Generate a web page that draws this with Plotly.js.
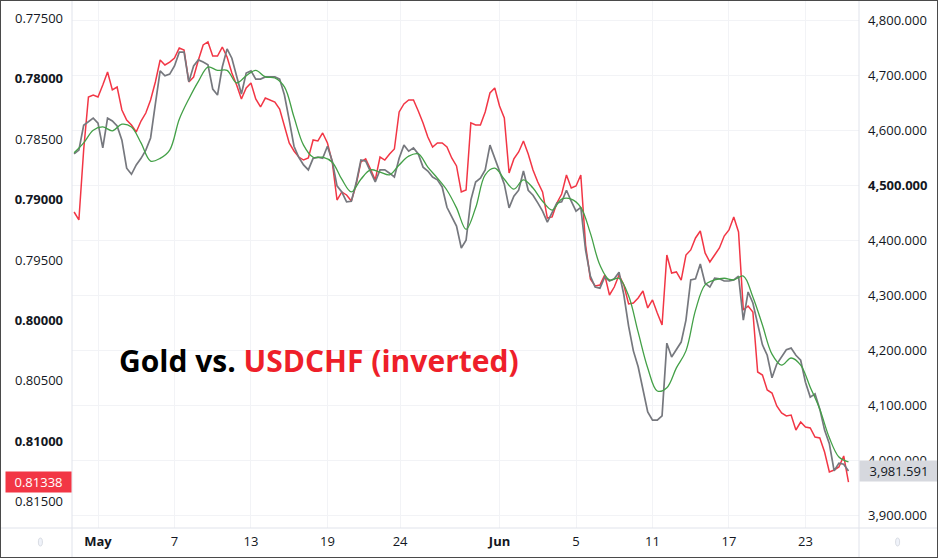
<!DOCTYPE html>
<html>
<head>
<meta charset="utf-8">
<script src="https://cdn.plot.ly/plotly-3.0.1.min.js"></script>
<style>
  html, body { margin: 0; padding: 0; background: #fff; }
  #chart { width: 936px; height: 556px; border: 1px solid #4a4a4a; }
</style>
</head>
<body>
<div id="chart"></div>
<script>
// samples every 6 hours, x in trading days counted from May 1
var firstDay = -1.25;
var sampleStep = 0.25;
var maStep = 0.5;

// USDCHF close (left axis, inverted)
var usdchf = [
  0.79103, 0.79169, 0.78590, 0.78151, 0.78135, 0.78151, 0.78052, 0.77944, 0.78093, 0.78069,
  0.78259, 0.78342, 0.78383, 0.78441, 0.78350, 0.78284, 0.78176, 0.78027, 0.77845, 0.77886,
  0.77862, 0.77829, 0.77746, 0.77762, 0.78027, 0.77986, 0.77845, 0.77721, 0.77696, 0.77812,
  0.77812, 0.77738, 0.77820, 0.77953, 0.78052, 0.78168, 0.78077, 0.78035, 0.78168, 0.78234,
  0.78160, 0.78176, 0.78193, 0.78251, 0.78383, 0.78532, 0.78598, 0.78648, 0.78673, 0.78656,
  0.78507, 0.78515, 0.78449, 0.78532, 0.78689, 0.79004, 0.78937, 0.78962, 0.79012, 0.78879,
  0.78689, 0.78664, 0.78747, 0.78838, 0.78648, 0.78673, 0.78623, 0.78582, 0.78275, 0.78209,
  0.78176, 0.78176, 0.78267, 0.78366, 0.78482, 0.78565, 0.78532, 0.78532, 0.78565, 0.78656,
  0.78722, 0.78937, 0.78921, 0.78366, 0.78383, 0.78383, 0.78275, 0.78118, 0.78077, 0.78226,
  0.78325, 0.78780, 0.78664, 0.78606, 0.78515, 0.78623, 0.78755, 0.78855, 0.78937, 0.79153,
  0.79144, 0.79028, 0.78954, 0.78797, 0.78904, 0.78888, 0.78797, 0.79376, 0.79657, 0.79715,
  0.79707, 0.79624, 0.79790, 0.79724, 0.79624, 0.79707, 0.79864, 0.79856, 0.79815, 0.79757,
  0.79897, 0.79831, 0.79939, 0.80038, 0.79459, 0.79608, 0.79599, 0.79666, 0.79459, 0.79417,
  0.79318, 0.79260, 0.79442, 0.79517, 0.79459, 0.79401, 0.79302, 0.79252, 0.79144, 0.79268,
  0.79914, 0.79881, 0.79930, 0.80427, 0.80452, 0.80576, 0.80601, 0.80708, 0.80766, 0.80791,
  0.80783, 0.80907, 0.80841, 0.80882, 0.80890, 0.80965, 0.80973, 0.81089, 0.81254, 0.81238,
  0.81213, 0.81122, 0.81338
];

// Gold close (right axis)
var gold = [
  4558, 4565, 4610, 4616, 4623, 4614, 4569, 4623, 4618, 4609,
  4583, 4532, 4521, 4538, 4550, 4565, 4587, 4649, 4709, 4700,
  4703, 4718, 4743, 4743, 4689, 4718, 4729, 4725, 4720, 4676,
  4665, 4716, 4749, 4732, 4701, 4667, 4705, 4709, 4694, 4694,
  4698, 4698, 4698, 4694, 4665, 4620, 4572, 4552, 4538, 4529,
  4550, 4552, 4550, 4572, 4545, 4500, 4489, 4471, 4472, 4505,
  4547, 4545, 4525, 4507, 4529, 4529, 4523, 4516, 4550, 4574,
  4563, 4569, 4558, 4534, 4527, 4516, 4511, 4498, 4461, 4443,
  4427, 4387, 4401, 4474, 4507, 4514, 4529, 4574, 4550, 4527,
  4503, 4460, 4481, 4492, 4527, 4492, 4483, 4469, 4454, 4434,
  4451, 4469, 4471, 4492, 4472, 4454, 4461, 4383, 4336, 4316,
  4314, 4334, 4327, 4331, 4343, 4302, 4245, 4200, 4171, 4129,
  4089, 4074, 4074, 4082, 4214, 4189, 4203, 4216, 4256, 4329,
  4331, 4358, 4323, 4316, 4332, 4331, 4327, 4327, 4329, 4336,
  4256, 4307, 4287, 4249, 4211, 4192, 4151, 4176, 4189, 4202,
  4205, 4192, 4183, 4143, 4116, 4122, 4094, 4056, 4031, 3982,
  3996, 3994, 3981.591
];

// Gold moving average (every 12 hours)
var goldMa = [
  4560, 4578, 4601, 4607, 4600, 4612, 4607, 4578, 4545, 4550,
  4565, 4621, 4658, 4690, 4716, 4710, 4710, 4687, 4700, 4710,
  4698, 4696, 4680, 4625, 4574, 4552, 4552, 4543, 4512, 4489,
  4512, 4529, 4525, 4520, 4538, 4554, 4558, 4534, 4514, 4492,
  4460, 4421, 4460, 4520, 4532, 4512, 4494, 4511, 4496, 4472,
  4456, 4476, 4476, 4461, 4414, 4356, 4329, 4332, 4300, 4234,
  4169, 4127, 4133, 4169, 4200, 4274, 4320, 4329, 4332, 4329,
  4336, 4298, 4247, 4194, 4174, 4187, 4174, 4134, 4094, 4042,
  4007, 3998
];

var tickDays = [0, 4, 8, 12, 15.8, 21, 25, 29, 33, 37];
var tickLabels = ['<b>May</b>', '7', '13', '19', '24', '<b>Jun</b>', '5', '11', '17', '23'];
var chfTicks = [0.775, 0.780, 0.785, 0.790, 0.795, 0.800, 0.805, 0.810, 0.815];
var goldTicks = [3900, 4000, 4100, 4200, 4300, 4400, 4500, 4600, 4700, 4800];

var lastChf = usdchf[usdchf.length - 1];
var lastGold = gold[gold.length - 1];

var chfText = chfTicks.map(function (v) {
    var s = v.toFixed(5);
    return (Math.round(v * 1000) % 10 === 0) ? '<b>' + s + '</b>' : s;
});
var goldText = goldTicks.map(function (v) {
    var s = v.toLocaleString('en-US', {minimumFractionDigits: 3});
    return v === 4500 ? '<b>' + s + '</b>' : s;
});

var data = [
    {
        type: 'scatter',
        mode: 'lines',
        name: 'Gold',
        x0: firstDay,
        dx: sampleStep,
        y: gold,
        yaxis: 'y2',
        line: {color: '#76787e', width: 1.7},
        hoverinfo: 'skip'
    },
    {
        type: 'scatter',
        mode: 'lines',
        name: 'Gold MA',
        x0: firstDay,
        dx: maStep,
        y: goldMa,
        yaxis: 'y2',
        line: {color: '#43a047', width: 1.3, shape: 'spline'},
        hoverinfo: 'skip'
    },
    {
        type: 'scatter',
        mode: 'lines',
        name: 'USDCHF',
        x0: firstDay,
        dx: sampleStep,
        y: usdchf,
        line: {color: '#f23645', width: 1.5},
        hoverinfo: 'skip'
    }
];

var lineColor = '#e0e3eb';
var layout = {
    width: 936,
    height: 556,
    paper_bgcolor: '#ffffff',
    plot_bgcolor: '#ffffff',
    font: {family: 'Open Sans', size: 13, color: '#131722'},
    showlegend: false,
    margin: {l: 71, r: 78, t: 0, b: 29},
    xaxis: {
        range: [-1.36, 39.8],
        tickvals: tickDays,
        ticktext: tickLabels,
        showgrid: true,
        gridcolor: '#f2f3f6',
        zeroline: false,
        showline: false,
        ticks: '',
        ticklabelstandoff: 4
    },
    yaxis: {
        side: 'left',
        range: [0.81718, 0.77357],
        tickvals: chfTicks,
        ticktext: chfText,
        showgrid: false,
        zeroline: false,
        ticks: '',
        ticklabelstandoff: 8
    },
    yaxis2: {
        overlaying: 'y',
        side: 'right',
        range: [3878, 4836],
        tickvals: goldTicks,
        ticktext: goldText,
        showgrid: true,
        gridcolor: '#f2f3f6',
        zeroline: false,
        ticks: '',
        ticklabelstandoff: 8
    },
    shapes: [
        {type: 'line', xref: 'paper', yref: 'paper', x0: 0, x1: 0, y0: -0.056, y1: 1,
         line: {color: lineColor, width: 1}},
        {type: 'line', xref: 'paper', yref: 'paper', x0: 1, x1: 1, y0: -0.056, y1: 1,
         line: {color: lineColor, width: 1}},
        {type: 'line', xref: 'paper', yref: 'paper', x0: -0.091, x1: 1.1, y0: 0, y1: 0,
         line: {color: lineColor, width: 1}},
        {type: 'circle', xref: 'paper', yref: 'paper', x0: -0.0427, x1: -0.0376, y0: -0.0342, y1: -0.0190,
         fillcolor: '#f0f3fa', line: {color: '#d1d4dc', width: 0.8}},
        {type: 'circle', xref: 'paper', yref: 'paper', x0: 1.0465, x1: 1.0516, y0: -0.0342, y1: -0.0190,
         fillcolor: '#f0f3fa', line: {color: '#d1d4dc', width: 0.8}}
    ],
    annotations: [
        {
            xref: 'paper', yref: 'y', x: 0, y: lastChf,
            xanchor: 'right', yanchor: 'middle',
            text: lastChf.toFixed(5),
            showarrow: false,
            bgcolor: '#f23645',
            font: {color: '#ffffff', size: 13},
            width: 59, height: 14, borderpad: 3
        },
        {
            xref: 'paper', yref: 'y2', x: 1, y: lastGold,
            xanchor: 'left', yanchor: 'middle',
            text: lastGold.toLocaleString('en-US', {minimumFractionDigits: 3}),
            showarrow: false,
            bgcolor: '#d6d8de',
            font: {color: '#131722', size: 13},
            width: 72, height: 14, borderpad: 3
        },
        {
            xref: 'paper', yref: 'paper', x: 0.0572, y: 0.317,
            xanchor: 'left', yanchor: 'middle',
            text: '<b>Gold vs. <span style="color:#ee1f2a">USDCHF (inverted)</span></b>',
            showarrow: false,
            font: {family: 'Open Sans', size: 30, color: '#000000'}
        }
    ]
};

Plotly.newPlot('chart', data, layout, {displayModeBar: false, staticPlot: true});
</script>
</body>
</html>
